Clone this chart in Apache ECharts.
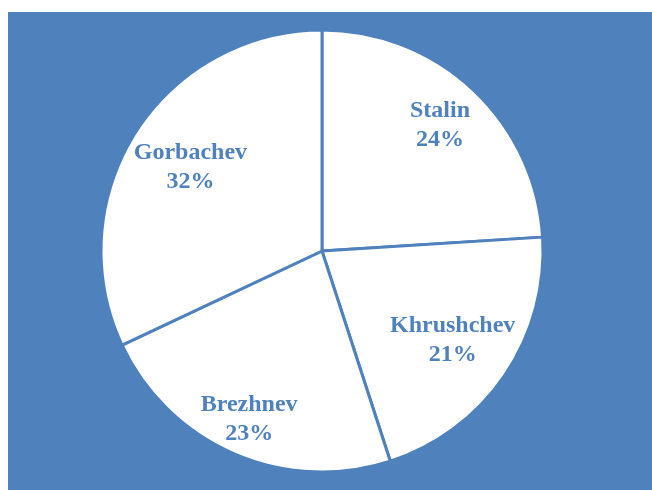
<!DOCTYPE html>
<html lang="en">
<head>
<meta charset="utf-8">
<title>Soviet leaders pie</title>
<script src="https://cdn.jsdelivr.net/npm/echarts@6/dist/echarts.min.js"></script>
<style>
  html, body { margin: 0; padding: 0; background: #fff; }
  #chart { position: absolute; left: 8px; top: 12px; width: 644px; height: 478px; }
</style>
</head>
<body>
<div id="chart"></div>
<script>
const leaders = ["Stalin", "Khrushchev", "Brezhnev", "Gorbachev"];
const shares = [24, 21, 23, 32];

// how far out each label sits, as a share of the pie radius
const labelReach = [0.78, 0.715, 0.83, 0.705];

const BLUE = "#4F81BD";
const cx = 314, cy = 239, R = 221;

var chart = echarts.init(document.getElementById("chart"));
chart.setOption({
  backgroundColor: BLUE,
  animation: false,
  series: [{
    type: "pie",
    center: [cx, cy],
    radius: [0, R],
    startAngle: 90,
    clockwise: true,
    itemStyle: {
      color: "#fff",
      borderColor: BLUE,
      borderWidth: 3
    },
    label: {
      position: "inside",
      formatter: "{b}\n{c}%",
      color: BLUE,
      fontFamily: "Liberation Serif",
      fontWeight: "bold",
      fontSize: 24,
      lineHeight: 29,
      align: "center"
    },
    labelLine: { show: false },
    emphasis: { disabled: true },
    labelLayout: function (params) {
      var r = params.labelRect;
      var lx = r.x + r.width / 2, ly = r.y + r.height / 2;
      var d = Math.sqrt((lx - cx) * (lx - cx) + (ly - cy) * (ly - cy));
      var k = labelReach[params.dataIndex] * R / d;
      return { dx: (lx - cx) * (k - 1), dy: (ly - cy) * (k - 1) };
    },
    data: leaders.map(function (name, i) {
      return { name: name, value: shares[i] };
    })
  }]
});
</script>
</body>
</html>
